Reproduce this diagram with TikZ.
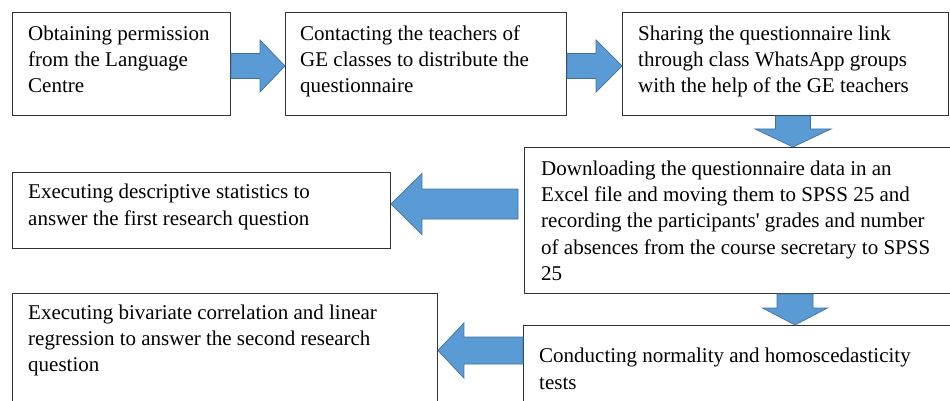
\documentclass[tikz,border=0pt]{standalone}
\usepackage{fontspec}
\setmainfont{Liberation Serif}
\usetikzlibrary{calc}
\definecolor{arrfill}{HTML}{5B9BD5}
\definecolor{arrline}{HTML}{41719C}
\newcommand\straightapos{\XeTeXglyph\XeTeXcharglyph"0027\relax}
\tikzset{
  box/.style={draw=black!80, line width=0.9pt, rectangle, inner sep=0pt, anchor=north west},
  txt/.style={anchor=north west, inner sep=0pt, align=left, font=\fontsize{21}{26.3}\selectfont},
  blockarrow/.style={fill=arrfill, draw=arrline, line width=0.7pt, line join=miter},
}
% horizontal block arrow: tail, tip, head length (signed), half body, half head
\newcommand\harr[5]{\path[blockarrow] let \p1=(#1), \p2=(#2) in
  ({\x1},{\y2+#4pt}) -- ({\x2-(#3pt)},{\y2+#4pt}) -- ({\x2-(#3pt)},{\y2+#5pt}) -- ({\x2},{\y2})
  -- ({\x2-(#3pt)},{\y2-#5pt}) -- ({\x2-(#3pt)},{\y2-#4pt}) -- ({\x1},{\y2-#4pt}) -- cycle;}
% downward block arrow: tail, tip, head length, half body, half head
\newcommand\varr[5]{\path[blockarrow] let \p1=(#1), \p2=(#2) in
  ({\x2-#4pt},{\y1}) -- ({\x2-#4pt},{\y2+#3pt}) -- ({\x2-#5pt},{\y2+#3pt}) -- ({\x2},{\y2})
  -- ({\x2+#5pt},{\y2+#3pt}) -- ({\x2+#4pt},{\y2+#3pt}) -- ({\x2+#4pt},{\y1}) -- cycle;}
\begin{document}
\begin{tikzpicture}[x=1pt,y=1pt]
\useasboundingbox (0,0) rectangle (950,-401);
\clip (0,0) rectangle (950,-401);
% boxes
\node[box, minimum width=218pt, minimum height=103pt] (b1) at (12,-12) {};
\node[box, minimum width=281pt, minimum height=103pt] (b2) at (285,-12) {};
\node[box, minimum width=326pt, minimum height=103pt] (b3) at (622,-12) {};
\node[box, minimum width=440pt, minimum height=146pt] (b4) at (524,-147) {};
\node[box, minimum width=378pt, minimum height=76pt] (b5) at (12,-172) {};
\node[box, minimum width=425pt, minimum height=130pt] (b6) at (12,-293) {};
\node[box, minimum width=440pt, minimum height=100pt] (b7) at (523,-325) {};
% texts
\node[txt] (t1) at ($(b1.north west)+(16,-9.6)$) {\strut Obtaining permission\\from the Language\\Centre};
\node[txt] (t2) at ($(b2.north west)+(15,-9.6)$) {\strut Contacting the teachers of\\GE classes to distribute the\\questionnaire};
\node[txt] (t3) at ($(b3.north west)+(16,-9.6)$) {\strut Sharing the questionnaire link\\through class WhatsApp groups\\with the help of the GE teachers};
\node[txt] (t4) at ($(b4.north west)+(17,-9.6)$) {\strut Downloading the questionnaire data in an\\Excel file and moving them to SPSS 25 and\\recording the participants\straightapos{} grades and number\\of absences from the course secretary to SPSS\\25};
\node[txt] (t5) at ($(b5.north west)+(16,-8.3)$) {\strut Executing descriptive statistics to\\answer the first research question};
\node[txt] (t6) at ($(b6.north west)+(16,-7.6)$) {\strut Executing bivariate correlation and linear\\regression to answer the second research\\question};
\node[txt] (t7) at ($(b7.north west)+(16,-19.3)$) {\strut Conducting normality and homoscedasticity\\tests};
% reference levels for the arrows
\coordinate (ytop) at (0,-66);
\coordinate (xd1) at (793,0);
\coordinate (ymid) at (0,-204);
\coordinate (xd2) at (795,0);
\coordinate (ybot) at (0,-350.5);
\coordinate (a1s) at (b1.east |- ytop);
\coordinate (a1e) at (b2.west |- ytop);
\coordinate (a2s) at (b2.east |- ytop);
\coordinate (a2e) at (b3.west |- ytop);
\coordinate (a3s) at (b3.south -| xd1);
\coordinate (a3e) at (b4.north -| xd1);
\coordinate (a4s) at ($(b4.west |- ymid)+(-6,0)$);
\coordinate (a4e) at (b5.east |- ymid);
\coordinate (a5s) at (b4.south -| xd2);
\coordinate (a5e) at (b7.north -| xd2);
\coordinate (a6s) at (b7.west |- ybot);
\coordinate (a6e) at (b6.east |- ybot);
% arrows
\harr{a1s}{a1e}{25}{12.5}{26}
\harr{a2s}{a2e}{26}{12.5}{26}
\varr{a3s}{a3e}{18}{17.5}{38}
\harr{a4s}{a4e}{-31}{15}{30.5}
\varr{a5s}{a5e}{17}{18}{32.5}
\harr{a6s}{a6e}{-26}{13.5}{27.5}
\end{tikzpicture}
\end{document}
